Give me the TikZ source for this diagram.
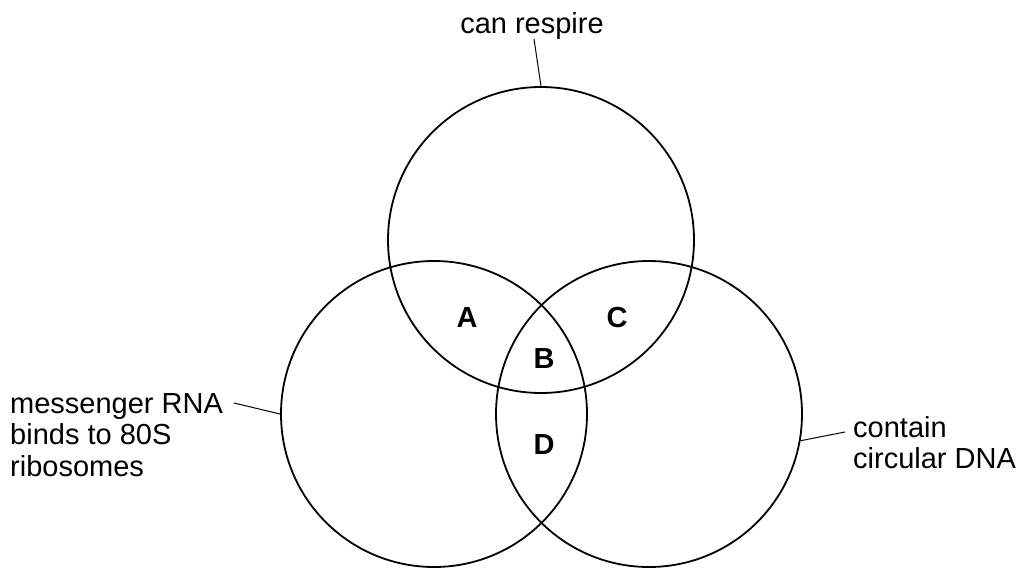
\documentclass[tikz,border=0pt]{standalone}
\usepackage{fontspec}
\setmainfont{Liberation Sans}
\usepackage{tikz}
\usetikzlibrary{positioning}

\begin{document}
\begin{tikzpicture}[x=1pt, y=-1pt,
  venn/.style={draw, circle, line width=1.8pt, minimum size=306pt, inner sep=0pt},
  lbl/.style={font=\fontsize{29}{31.5}\selectfont, align=left, inner sep=0pt},
  region/.style={font=\fontsize{29}{31}\selectfont\bfseries, inner sep=0pt},
  lead/.style={line width=1pt},
]
  \useasboundingbox (0,0) rectangle (1020,570);
  % the three sets
  \node[venn] (respire) at (541,240) {};
  \node[venn] (mrna) at (434,414) {};
  \node[venn] (dna) at (649,414) {};

  % set labels (base = last line)
  \node[lbl, anchor=base] (respirelbl) at (532,33) {can respire};
  \node[lbl, anchor=base west] (mrnalbl) at (10,476) {messenger RNA\\binds to 80S\\ribosomes};
  \node[lbl, anchor=base west] (dnalbl) at (853,468.5) {contain\\circular DNA};

  \coordinate (respiretip) at (534,39);
  \coordinate (mrnatip) at (234,403);
  \coordinate (dnatip) at (845,432);
  \draw[lead] (respiretip) -- (respire.north);
  \draw[lead] (mrnatip) -- (mrna.west);
  \draw[lead] (dnatip) -- (dna.-10.5);

  % regions
  \node[region] (regA) at (467,318) {A};
  \node[region] (regB) at (544,359) {B};
  \node[region] (regC) at (617,318) {C};
  \node[region] (regD) at (544,445) {D};
\end{tikzpicture}
\end{document}
